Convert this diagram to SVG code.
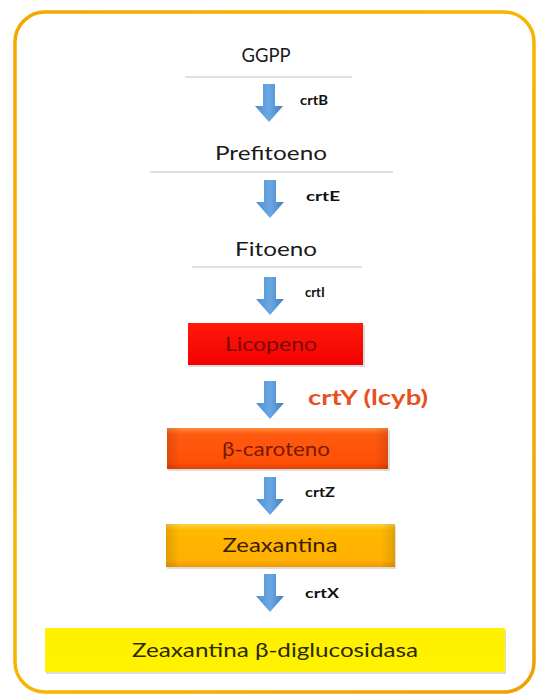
<svg xmlns="http://www.w3.org/2000/svg" width="537" height="699" viewBox="0 0 537 699">
  <defs>
    <linearGradient id="border" x1="0" y1="0" x2="1" y2="1">
      <stop offset="0" stop-color="#F2A900"/>
      <stop offset="0.5" stop-color="#F7B500"/>
      <stop offset="1" stop-color="#F0A000"/>
    </linearGradient>
    <linearGradient id="arrowGrad" x1="0" y1="0" x2="1" y2="0">
      <stop offset="0" stop-color="#4F8FD0"/>
      <stop offset="0.5" stop-color="#6AA8E4"/>
      <stop offset="1" stop-color="#3F7EC2"/>
    </linearGradient>
    <linearGradient id="redGrad" x1="0" y1="0" x2="0" y2="1">
      <stop offset="0" stop-color="#FF1A0A"/>
      <stop offset="1" stop-color="#F20000"/>
    </linearGradient>
    <linearGradient id="caroGradV" x1="0" y1="0" x2="0" y2="1">
      <stop offset="0" stop-color="#FF8A3A"/>
      <stop offset="0.15" stop-color="#FF5A10"/>
      <stop offset="0.85" stop-color="#FF5008"/>
      <stop offset="1" stop-color="#E04000"/>
    </linearGradient>
    <linearGradient id="zeaGradV" x1="0" y1="0" x2="0" y2="1">
      <stop offset="0" stop-color="#FFD040"/>
      <stop offset="0.15" stop-color="#FFB800"/>
      <stop offset="0.85" stop-color="#FFB000"/>
      <stop offset="1" stop-color="#F09800"/>
    </linearGradient>
    <linearGradient id="yellowGrad" x1="0" y1="0" x2="0" y2="1">
      <stop offset="0" stop-color="#FFF000"/>
      <stop offset="1" stop-color="#FFF200"/>
    </linearGradient>
    <linearGradient id="sideShade" x1="0" y1="0" x2="1" y2="0">
      <stop offset="0" stop-color="#000" stop-opacity="0.12"/>
      <stop offset="0.06" stop-color="#000" stop-opacity="0"/>
      <stop offset="0.94" stop-color="#000" stop-opacity="0"/>
      <stop offset="1" stop-color="#000" stop-opacity="0.12"/>
    </linearGradient>
    <path id="arrow" d="M-6,0 H6 V22 H14 L0,38 L-14,22 H-6 Z"/>
  </defs>
  <style>
    .name { font-family: "Lato", "Liberation Sans", sans-serif; font-size: 20px; fill: #1a1a1a; text-anchor: middle; }
    .boxtext { font-family: "Lato", "Liberation Sans", sans-serif; font-size: 20px; text-anchor: middle; }
    .enz { font-family: "Lato", "Liberation Sans", sans-serif; font-size: 13px; font-weight: bold; fill: #111; }
    .sep { stroke: #c4c4c4; stroke-width: 1.2; }
    .shadow { fill: #9a9a9a; opacity: 0.35; }
    .arr { fill: url(#arrowGrad); }
  </style>

  <rect x="0" y="0" width="537" height="699" fill="#ffffff"/>
  <rect id="frame" x="15" y="12" width="519" height="680" rx="30" ry="30" fill="#ffffff" stroke="url(#border)" stroke-width="3.5"/>

  <g id="ggpp">
    <text class="name" x="266" y="62" font-size="18" textLength="49" lengthAdjust="spacingAndGlyphs">GGPP</text>
    <line class="sep" x1="185" y1="77" x2="352" y2="77"/>
  </g>

  <g id="prefitoeno">
    <text class="name" x="271" y="160" textLength="112" lengthAdjust="spacingAndGlyphs">Prefitoeno</text>
    <line class="sep" x1="150" y1="172" x2="393" y2="172"/>
  </g>

  <g id="fitoeno">
    <text class="name" x="276" y="256" textLength="82" lengthAdjust="spacingAndGlyphs">Fitoeno</text>
    <line class="sep" x1="192" y1="267" x2="362" y2="267"/>
  </g>

  <g id="licopeno">
    <rect class="shadow" x="189" y="325" width="176" height="42"/>
    <rect x="188" y="323" width="175" height="42" fill="url(#redGrad)"/>
    <text class="boxtext" x="271" y="351" fill="#7A0A0A" textLength="92" lengthAdjust="spacingAndGlyphs">Licopeno</text>
  </g>

  <g id="betacaroteno">
    <rect class="shadow" x="168" y="430" width="222" height="41"/>
    <rect x="167" y="428" width="221" height="41" fill="url(#caroGradV)"/>
    <rect x="167" y="428" width="221" height="41" fill="url(#sideShade)"/>
    <text class="boxtext" x="276" y="456" fill="#7A1A00" textLength="108" lengthAdjust="spacingAndGlyphs">β-caroteno</text>
  </g>

  <g id="zeaxantina">
    <rect class="shadow" x="167" y="526" width="229" height="43"/>
    <rect x="166" y="524" width="229" height="43" fill="url(#zeaGradV)"/>
    <rect x="166" y="524" width="229" height="43" fill="url(#sideShade)"/>
    <text class="boxtext" x="280" y="552" fill="#3A1E05" textLength="115" lengthAdjust="spacingAndGlyphs">Zeaxantina</text>
  </g>

  <g id="diglucosidasa">
    <rect class="shadow" x="46" y="630" width="460" height="44"/>
    <rect x="45" y="628" width="460" height="44" fill="url(#yellowGrad)"/>
    <text class="boxtext" x="275" y="657" fill="#2A2A05" textLength="286" lengthAdjust="spacingAndGlyphs">Zeaxantina β-diglucosidasa</text>
  </g>

  <g id="connectors">
    <use href="#arrow" class="arr" transform="translate(269,84)"/>
    <text class="enz" x="300" y="105" textLength="28" lengthAdjust="spacingAndGlyphs">crtB</text>

    <use href="#arrow" class="arr" transform="translate(270,180)"/>
    <text class="enz" x="306" y="201" textLength="34" lengthAdjust="spacingAndGlyphs">crtE</text>

    <use href="#arrow" class="arr" transform="translate(270,277)"/>
    <text class="enz" x="305" y="297">crtI</text>

    <use href="#arrow" class="arr" transform="translate(270,381)"/>
    <text x="308" y="405" font-family="Lato, 'Liberation Sans', sans-serif" font-size="20" font-weight="bold" fill="#E8501E" textLength="120" lengthAdjust="spacingAndGlyphs">crtY (lcyb)</text>

    <use href="#arrow" class="arr" transform="translate(270,477)"/>
    <text class="enz" x="305" y="497" textLength="30" lengthAdjust="spacingAndGlyphs">crtZ</text>

    <use href="#arrow" class="arr" transform="translate(270,574)"/>
    <text class="enz" x="305" y="598" textLength="34" lengthAdjust="spacingAndGlyphs">crtX</text>
  </g>
</svg>
